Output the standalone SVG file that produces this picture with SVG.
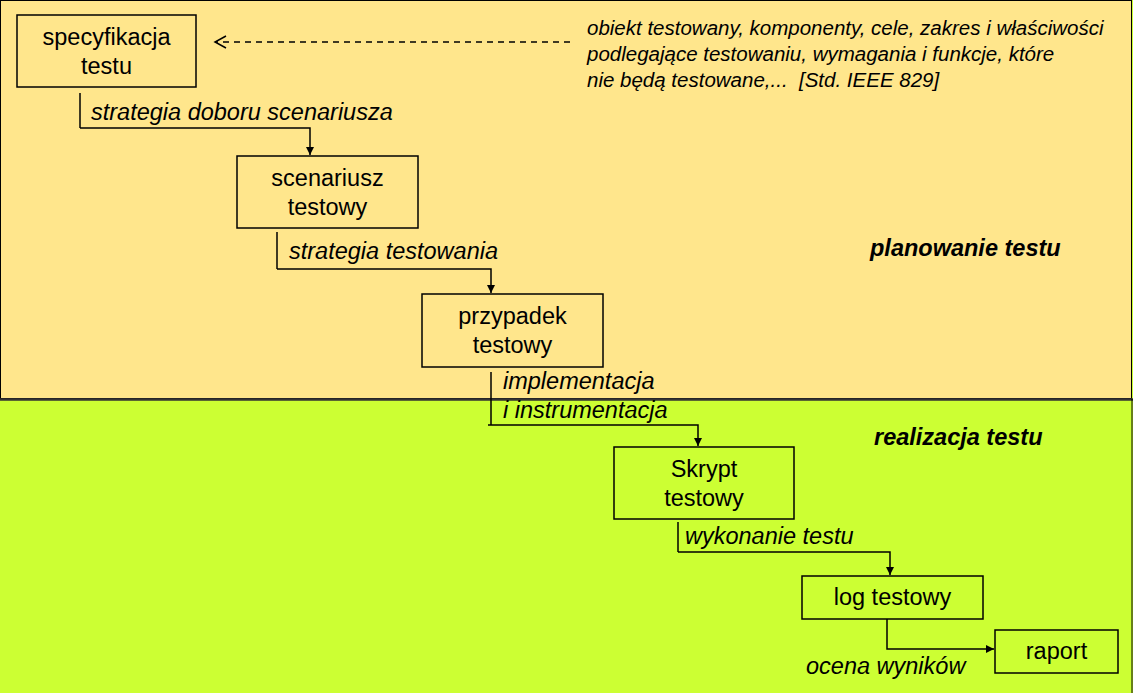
<svg xmlns="http://www.w3.org/2000/svg" width="1133" height="693" viewBox="0 0 1133 693">
<defs>
<style>
.box{fill:none;stroke:#000;stroke-width:1.5}
.nt{font-family:"Liberation Sans",Arial,sans-serif;font-size:23.5px;text-anchor:middle;fill:#000}
.lb{font-family:"Liberation Sans",Arial,sans-serif;font-size:23.5px;font-style:italic;fill:#000}
.rt{font-family:"Liberation Sans",Arial,sans-serif;font-size:20.5px;font-style:italic;fill:#000;white-space:pre}
.ph{font-family:"Liberation Sans",Arial,sans-serif;font-size:23.5px;font-style:italic;font-weight:bold;fill:#000}
.ln{fill:none;stroke:#000;stroke-width:1.5}
</style>
<marker id="ah" markerWidth="10" markerHeight="10" refX="9" refY="5" orient="auto" markerUnits="userSpaceOnUse">
<path d="M1,1 L9,5 L1,9 Z" fill="#000"/>
</marker>
<marker id="oh" markerWidth="14" markerHeight="14" refX="12" refY="7" orient="auto" markerUnits="userSpaceOnUse">
<path d="M1,1 L12,7 L1,13" fill="none" stroke="#000" stroke-width="1.5"/>
</marker>
</defs>
<rect x="0" y="0" width="1133" height="693" fill="#CCFF33"/>
<rect x="0.5" y="0.5" width="1131" height="398" fill="#FFE68C" stroke="#000" stroke-width="1"/>
<line x1="0" y1="399.5" x2="1133" y2="399.5" stroke="#333" stroke-width="2.5"/>
<line x1="1132" y1="399" x2="1132" y2="693" stroke="#000" stroke-width="1"/>

<text class="ph" x="870" y="256">planowanie testu</text>
<text class="ph" x="874" y="445">realizacja testu</text>

<g id="note">
<text class="rt" x="587" y="35">obiekt testowany, komponenty, cele, zakres i właściwości</text>
<text class="rt" x="587" y="61">podlegające testowaniu, wymagania i funkcje, które</text>
<text class="rt" x="587" y="87" xml:space="preserve">nie będą testowane,...  [Std. IEEE 829]</text>
</g>

<g id="n1"><rect class="box" x="17" y="15" width="179" height="72"/>
<text class="nt" x="106.5" y="45">specyfikacja</text><text class="nt" x="106.5" y="74">testu</text></g>
<g id="n2"><rect class="box" x="237" y="156" width="181" height="72"/>
<text class="nt" x="327.5" y="186">scenariusz</text><text class="nt" x="327.5" y="215">testowy</text></g>
<g id="n3"><rect class="box" x="422" y="294" width="181" height="73"/>
<text class="nt" x="512.5" y="324">przypadek</text><text class="nt" x="512.5" y="353">testowy</text></g>
<g id="n4"><rect class="box" x="614" y="447" width="180" height="72"/>
<text class="nt" x="704" y="477">Skrypt</text><text class="nt" x="704" y="506">testowy</text></g>
<g id="n5"><rect class="box" x="802" y="576" width="181" height="43"/>
<text class="nt" x="892.5" y="605">log testowy</text></g>
<g id="n6"><rect class="box" x="995" y="630" width="123" height="43"/>
<text class="nt" x="1056.5" y="659">raport</text></g>

<g id="connectors">
<line class="ln" x1="570" y1="42" x2="215" y2="42" stroke-dasharray="6,5" marker-end="url(#oh)"/>
<line class="ln" x1="80" y1="93" x2="80" y2="128"/>
<polyline class="ln" points="80,128 310,128 310,155" marker-end="url(#ah)"/>
<line class="ln" x1="277" y1="232" x2="277" y2="269"/>
<polyline class="ln" points="277,269 491,269 491,293" marker-end="url(#ah)"/>
<line class="ln" x1="491" y1="372" x2="491" y2="425"/>
<polyline class="ln" points="488,425 698,425 698,446" marker-end="url(#ah)"/>
<line class="ln" x1="678" y1="522" x2="678" y2="552"/>
<polyline class="ln" points="678,552 890,552 890,575" marker-end="url(#ah)"/>
<polyline class="ln" points="887,619 887,649 994,649" marker-end="url(#ah)"/>
</g>

<text class="lb" x="91" y="120">strategia doboru scenariusza</text>
<text class="lb" x="289" y="259">strategia testowania</text>
<text class="lb" x="503" y="389">implementacja</text>
<text class="lb" x="503" y="418">i instrumentacja</text>
<text class="lb" x="685" y="544">wykonanie testu</text>
<text class="lb" x="806" y="674">ocena wyników</text>
</svg>
